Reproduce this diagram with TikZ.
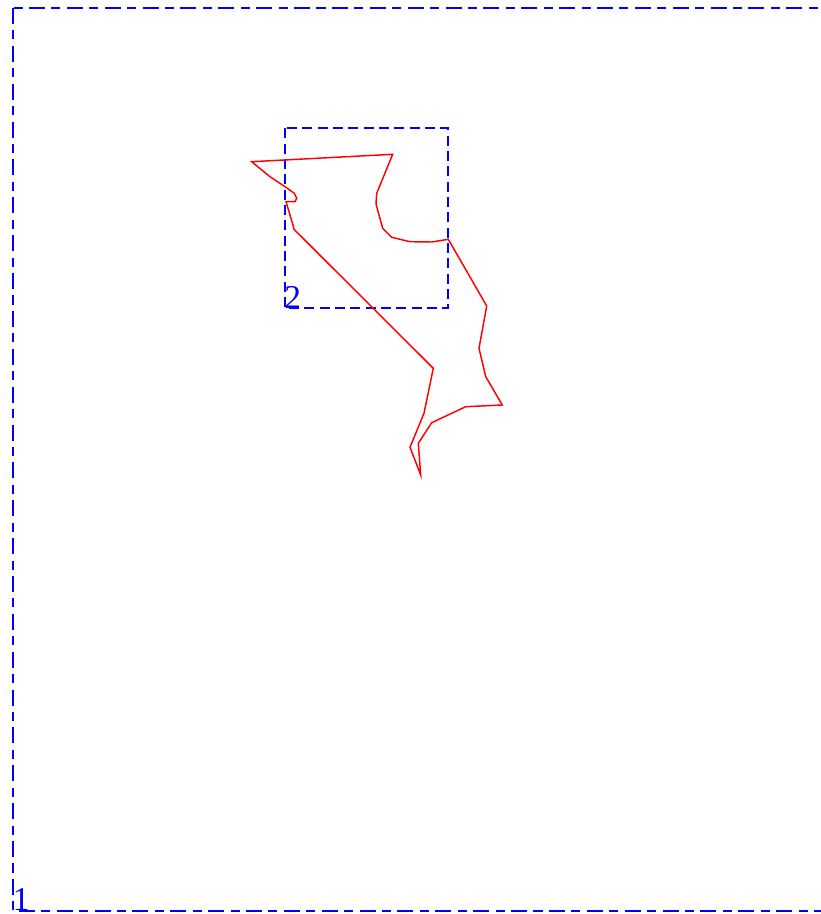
\documentclass[tikz,border=0pt]{standalone}
\usepackage{fontspec}
\setmainfont{Liberation Serif}
\begin{document}
\begin{tikzpicture}[x=0.75pt,y=-0.75pt,
  outerbox/.style={draw=blue,line width=1.5pt,dash pattern=on 12pt off 4.8pt on 6.8pt off 4.8pt},
  innerbox/.style={draw=blue,line width=1.5pt,dash pattern=on 7.5pt off 4pt},
  lbl/.style={text=blue,font=\fontsize{25}{25}\selectfont,inner sep=0pt,anchor=base west},
  redpoly/.style={draw=red,line width=1.1pt,line join=miter}]
\useasboundingbox (0,0) rectangle (821,914);
\coordinate (o1) at (13,8);
\coordinate (o2) at (830,911);
\draw[outerbox] (o1) rectangle (o2);
\coordinate (i1) at (285,128.3);
\coordinate (i2) at (448.3,308.3);
\draw[innerbox] (i1) rectangle (i2);
\node[lbl] (l1) at (12.5,910.5) {1};
\node[lbl] (l2) at (284,308.5) {2};
\draw[redpoly] (420.7,475) -- (418.3,443.3) -- (431.7,422.7) -- (465.7,406.7) -- (502.3,405)
 -- (485.7,376.7) -- (479,348.3) -- (486.7,306) -- (448.3,239.3) -- (431.7,242)
 -- (410,241.7) -- (391.7,237.3) -- (382.7,228.3) -- (376,204) -- (376.7,193.3)
 -- (392.7,154.3) -- (251.7,161.7) -- (270,176.7) -- (285,186.7) -- (294.3,193.3)
 -- (296.7,198.3) -- (295,201.7) -- (286,201.7) -- (293.3,226) -- (294,229.3)
 -- (433.3,368.3) -- (424,413.3) -- (410,447.3) -- cycle;
\end{tikzpicture}
\end{document}
